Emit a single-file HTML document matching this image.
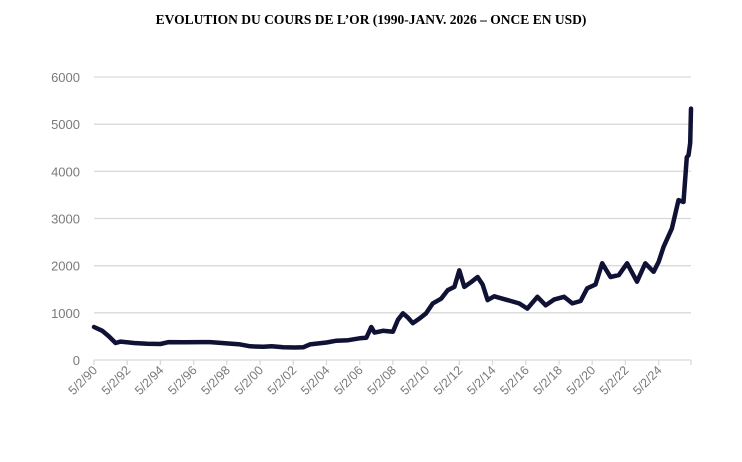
<!DOCTYPE html>
<html><head><meta charset="utf-8"><style>
html,body{margin:0;padding:0;background:#fff;}
svg{display:block;}
</style></head><body>
<svg id="chart" width="742" height="462" viewBox="0 0 742 462" xmlns="http://www.w3.org/2000/svg">
<text x="371" y="24" text-anchor="middle" font-family="Liberation Serif, serif" font-weight="bold" font-size="13.5" fill="#000">EVOLUTION DU COURS DE L’OR (1990-JANV. 2026 – ONCE EN USD)</text>
<g id="grid"></g>
<g id="yaxis"></g>
<g id="xaxis"></g>
<g id="series"></g>
</svg>
<script>
const years = [1990.1,1990.6,1991.0,1991.4,1991.7,1992.5,1993.3,1994.1,1994.6,1995.5,1996.5,1997.1,1997.8,1998.9,1999.5,2000.3,2000.8,2001.5,2002.2,2002.7,2003.1,2004.1,2004.7,2005.4,2006.1,2006.5,2006.8,2007.0,2007.5,2008.1,2008.4,2008.7,2009.0,2009.3,2009.7,2010.1,2010.5,2011.0,2011.4,2011.8,2012.1,2012.4,2012.8,2013.2,2013.5,2013.8,2014.2,2014.7,2015.2,2015.7,2016.2,2016.8,2017.3,2017.8,2018.4,2018.9,2019.4,2019.8,2020.3,2020.7,2021.2,2021.7,2022.2,2022.8,2023.3,2023.8,2024.1,2024.4,2024.9,2025.3,2025.6,2025.8,2025.9,2026.0,2026.05];
const prices = [700,620,500,360,390,360,345,340,380,375,380,380,360,330,290,280,290,270,265,270,330,370,410,420,460,470,700,580,620,600,850,990,900,780,880,990,1200,1300,1480,1550,1900,1550,1650,1760,1600,1270,1350,1300,1250,1200,1090,1340,1160,1280,1340,1200,1250,1520,1600,2050,1760,1800,2050,1660,2050,1870,2080,2400,2790,3390,3350,4300,4340,4600,5330];
const yTicks = [0,1000,2000,3000,4000,5000,6000];
const xTickLabels = ["5/2/90","5/2/92","5/2/94","5/2/96","5/2/98","5/2/00","5/2/02","5/2/04","5/2/06","5/2/08","5/2/10","5/2/12","5/2/14","5/2/16","5/2/18","5/2/20","5/2/22","5/2/24"];
const xTickYears = [1990.1,1992.1,1994.1,1996.1,1998.1,2000.1,2002.1,2004.1,2006.1,2008.1,2010.1,2012.1,2014.1,2016.1,2018.1,2020.1,2022.1,2024.1,2026.05];

const NS="http://www.w3.org/2000/svg";
const X0=94, X1=691, Y0=360, YTOP=77;
const xMin=1990.1, xMax=2026.05;
function xs(v){return X0+(v-xMin)/(xMax-xMin)*(X1-X0);}
function ys(v){return Y0-v/6000*(Y0-YTOP);}
function mk(tag,attrs,parent){const e=document.createElementNS(NS,tag);for(const k in attrs)e.setAttribute(k,attrs[k]);parent.appendChild(e);return e;}

const grid=document.getElementById('grid'), yaxis=document.getElementById('yaxis'), xaxis=document.getElementById('xaxis'), series=document.getElementById('series');
yTicks.forEach(t=>{
  if(t>0){
    const l=mk('line',{x1:X0,x2:X1,y1:ys(t),y2:ys(t),stroke:'#d9d9d9','stroke-width':1.3},grid);
    
    
  }
  const tx=mk('text',{x:80,y:ys(t)+5,'text-anchor':'end','font-family':'Liberation Sans, sans-serif','font-size':13,fill:'#7a7a7a'},yaxis);
  tx.textContent=t;
  
  
});
const ax=mk('line',{x1:X0,x2:X1,y1:Y0,y2:Y0,stroke:'#d9d9d9','stroke-width':1.3},xaxis);


xTickYears.forEach((yr,i)=>{
  const x=xs(yr);
  const tk=mk('line',{x1:x,x2:x,y1:Y0,y2:Y0+5,stroke:'#d9d9d9','stroke-width':1.3},xaxis);
  
  
  if(i<xTickLabels.length){
    const tx=mk('text',{x:x+4,y:371,'text-anchor':'end','font-family':'Liberation Sans, sans-serif','font-size':12.5,fill:'#7a7a7a',transform:'rotate(-45 '+(x+4)+' 371)'},xaxis);
    tx.textContent=xTickLabels[i];
    
    
  }
});
const d=years.map((y,i)=>(i?'L':'M')+xs(y).toFixed(1)+' '+ys(prices[i]).toFixed(1)).join(' ');
const p=mk('path',{d:d,fill:'none',stroke:'#0f1235','stroke-width':4.5,'stroke-linejoin':'round','stroke-linecap':'round'},series);


</script>
</body></html>
